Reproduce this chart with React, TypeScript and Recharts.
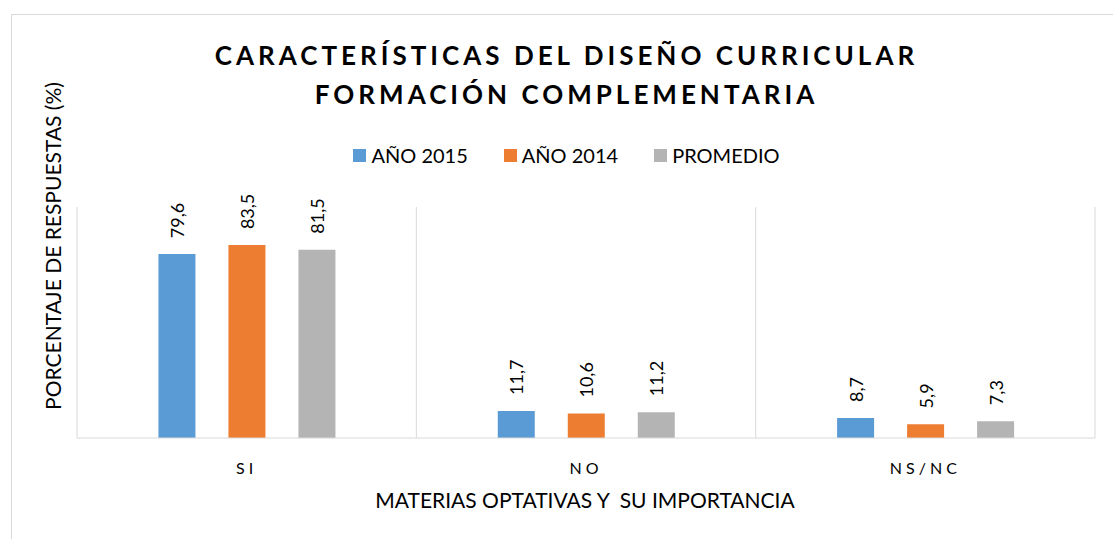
import { BarChart, Bar, XAxis, YAxis, CartesianGrid, LabelList } from "recharts"

const categories = ["SI", "NO", "NS/NC"]
const year2015 = [79.6, 11.7, 8.7]
const year2014 = [83.5, 10.6, 5.9]
const average = [81.5, 11.2, 7.3]

const SERIES = [
  { key: "y2015", name: "AÑO 2015", color: "#5b9bd5" },
  { key: "y2014", name: "AÑO 2014", color: "#ed7d31" },
  { key: "avg", name: "PROMEDIO", color: "#b4b4b4" },
]

const FONT = "Lato, 'Open Sans', sans-serif"

const data = categories.map((c, i) => ({
  cat: c,
  y2015: year2015[i],
  y2014: year2014[i],
  avg: average[i],
}))

const fmt = (v: number) => String(v).replace(".", ",")

function ValueLabel(props: any) {
  const { x, y, width, value } = props
  const cx = x + width / 2
  const cy = y - 16
  return (
    <text
      x={cx}
      y={cy}
      transform={`rotate(-90 ${cx} ${cy})`}
      textAnchor="start"
      dominantBaseline="central"
      fontSize={18}
      fontFamily={FONT}
      fill="#000"
    >
      {fmt(value)}
    </text>
  )
}

function CatTick(props: any) {
  const { x, y, payload } = props
  return (
    <text x={x} y={y + 28} textAnchor="middle" fontSize={16} fontFamily={FONT} letterSpacing={4} fill="#000">
      {payload.value}
    </text>
  )
}

function LegendBox() {
  return (
    <div
      style={{
        position: "absolute",
        left: 0,
        top: 142,
        width: 1133,
        display: "flex",
        justifyContent: "center",
        gap: 36,
        fontFamily: FONT,
        fontSize: 20,
        lineHeight: "26px",
        color: "#000",
      }}
    >
      {SERIES.map(s => (
        <span key={s.key} style={{ display: "flex", alignItems: "center" }}>
          <span style={{ width: 13, height: 13, background: s.color, marginRight: 5, display: "inline-block" }} />
          {s.name}
        </span>
      ))}
    </div>
  )
}

export default function App() {
  return (
    <div style={{ position: "absolute", left: 0, top: 0, width: 1113, height: 539, background: "#fff", overflow: "hidden" }}>
      <div style={{ position: "absolute", left: 11, top: 14, width: 1120, height: 560, border: "1px solid #d9d9d9" }} />
      <BarChart
        width={1113}
        height={539}
        data={data}
        margin={{ top: 207, right: 18, bottom: 21, left: 37 }}
        barCategoryGap="24%"
        barGap={33}
        style={{ position: "absolute", left: 0, top: 0 }}
      >
        <CartesianGrid
          horizontal={false}
          stroke="#d9d9d9"
          verticalCoordinatesGenerator={({ offset }: any) => {
            const w = offset.width / categories.length
            return categories.map((_, i) => offset.left + w * i).concat(offset.left + offset.width)
          }}
        />
        <XAxis
          dataKey="cat"
          height={80}
          tickLine={false}
          axisLine={{ stroke: "#d9d9d9" }}
          tick={<CatTick />}
          label={({ viewBox }: any) => (
            <text
              x={viewBox.x + viewBox.width / 2 - 1}
              y={viewBox.y + 70}
              textAnchor="middle"
              fontSize={21}
              fontFamily={FONT}
              fill="#000"
              style={{ whiteSpace: "pre" }}
            >
              {"MATERIAS OPTATIVAS Y  SU IMPORTANCIA"}
            </text>
          )}
        />
        <YAxis
          width={40}
          domain={[0, 100]}
          axisLine={false}
          tickLine={false}
          tick={false}
          label={() => {
            const cx = 52
            const cy = 246
            return (
              <text
                x={cx}
                y={cy}
                transform={`rotate(-90 ${cx} ${cy})`}
                textAnchor="middle"
                dominantBaseline="central"
                fontSize={21}
                fontFamily={FONT}
                fill="#000"
              >
                PORCENTAJE DE RESPUESTAS (%)
              </text>
            )
          }}
        />
        {SERIES.map(s => (
          <Bar key={s.key} dataKey={s.key} name={s.name} fill={s.color} isAnimationActive={false}>
            <LabelList dataKey={s.key} content={<ValueLabel />} />
          </Bar>
        ))}
      </BarChart>
      <div
        style={{
          position: "absolute",
          left: 0,
          top: 36,
          width: 1133,
          textAlign: "center",
          fontFamily: FONT,
          fontWeight: 700,
          fontSize: 26,
          letterSpacing: 4,
          lineHeight: "39px",
          color: "#000",
        }}
      >
        CARACTERÍSTICAS DEL DISEÑO CURRICULAR
        <br />
        FORMACIÓN COMPLEMENTARIA
      </div>
      <LegendBox />
    </div>
  )
}
